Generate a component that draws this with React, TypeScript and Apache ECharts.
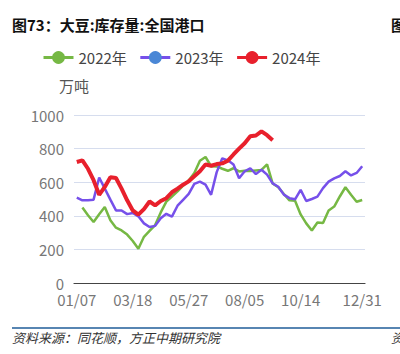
import React, { useEffect, useRef } from "react";
import * as echarts from "echarts";

const categories = [
  "01/07", "01/14", "01/21", "01/28", "02/04", "02/11", "02/18", "02/25", "03/04", "03/11",
  "03/18", "03/25", "04/01", "04/08", "04/15", "04/22", "04/29", "05/06", "05/13", "05/20",
  "05/27", "06/03", "06/10", "06/17", "06/24", "07/01", "07/08", "07/15", "07/22", "07/29",
  "08/05", "08/12", "08/19", "08/26", "09/02", "09/09", "09/16", "09/23", "09/30", "10/07",
  "10/14", "10/21", "10/28", "11/04", "11/11", "11/18", "11/25", "12/02", "12/09", "12/16",
  "12/23", "12/31",
];

const xLabelsShown = ["01/07", "03/18", "05/27", "08/05", "10/14", "12/31"];

const seriesNames = ["2022年", "2023年", "2024年"];

const values2022 = [
  null, 449, 403, 363, 409, 453, 373, 329, 313, 288, 250, 204, 275, 310, 345, 420, 484, 515,
  545, 580, 610, 655, 728, 750, 695, 694, 680, 668, 683, 664, 668, 667, 670, 673, 706, 592,
  570, 530, 492, 490, 408, 355, 312, 360, 357, 432, 455, 515, 570, 525, 484, 494,
];

const values2023 = [
  508, 492, 492, 496, 628, 562, 496, 432, 432, 410, 417, 397, 355, 333, 340, 385, 412, 395,
  460, 495, 530, 590, 603, 585, 525, 660, 742, 730, 705, 623, 665, 683, 648, 674, 645, 593,
  573, 526, 505, 498, 554, 488, 500, 514, 565, 603, 623, 637, 665, 640, 655, 695,
];

const values2024 = [
  720, 730, 680, 612, 525, 572, 630, 625, 562, 492, 432, 407, 440, 485, 462, 488, 505, 540,
  562, 585, 605, 635, 665, 705, 698, 708, 712, 728, 765, 800, 832, 873, 878, 903, 880, 850,
];

const yTicks = { min: 0, max: 1000, interval: 200 };

const FONT = '"Noto Sans CJK SC", "Noto Sans", sans-serif';

export default function App() {
  const ref = useRef<HTMLDivElement>(null);

  useEffect(() => {
    if (!ref.current) return;
    const chart = echarts.init(ref.current, null, { renderer: "svg" });
    const labelIdx = (i: number) => xLabelsShown.indexOf(categories[i]) >= 0;
    const tickIdx = (i: number) => i % 10 === 0;

    chart.setOption({
      animation: false,
      textStyle: { fontFamily: FONT },
      grid: { left: 74, right: 35, top: 115, bottom: 71 },
      legend: {
        left: 37,
        top: 45,
        itemWidth: 30,
        itemHeight: 16,
        itemGap: 12,
        data: seriesNames,
        textStyle: { fontSize: 15, color: "#444", fontFamily: FONT },
        lineStyle: { width: 3 },
      },
      graphic: [
        {
          type: "text",
          left: 12,
          top: 17,
          style: {
            text: "图73：大豆:库存量:全国港口",
            fontSize: 15,
            fontWeight: "bold",
            fill: "#111",
            fontFamily: FONT,
          },
        },
        {
          type: "text",
          x: 391,
          y: 17,
          style: { text: "图", fontSize: 15, fontWeight: "bold", fill: "#111", fontFamily: FONT },
        },
        {
          type: "line",
          shape: { x1: 12, y1: 328, x2: 400, y2: 328 },
          style: { stroke: "#1f5c99", lineWidth: 1.5 },
        },
        {
          type: "text",
          left: 12,
          top: 331,
          style: {
            text: "资料来源：同花顺，方正中期研究院",
            fontSize: 13,
            fontStyle: "italic",
            fill: "#333",
            fontFamily: FONT,
          },
        },
        {
          type: "text",
          x: 391,
          y: 331,
          style: { text: "资", fontSize: 13, fontStyle: "italic", fill: "#333", fontFamily: FONT },
        },
      ],
      xAxis: {
        type: "category",
        data: categories,
        boundaryGap: true,
        axisLine: { lineStyle: { color: "#444", width: 1.2 } },
        axisTick: { interval: tickIdx, length: 6, lineStyle: { color: "#444" } },
        axisLabel: {
          interval: labelIdx,
          fontSize: 15,
          lineHeight: 15,
          color: "#777",
          margin: 9,
          fontFamily: FONT,
        },
        splitLine: { show: false },
      },
      yAxis: {
        type: "value",
        min: yTicks.min,
        max: yTicks.max,
        interval: yTicks.interval,
        name: "万吨",
        nameGap: 22,
        nameTextStyle: { fontSize: 15, color: "#555", fontFamily: FONT },
        axisLine: { show: false },
        axisTick: { show: false },
        axisLabel: {
          fontSize: 15,
          lineHeight: 14,
          color: "#777",
          margin: 10,
          fontFamily: FONT,
          formatter: (v: number) => String(v),
        },
        splitLine: { lineStyle: { color: "#d6ddee", width: 1 } },
      },
      series: [
        {
          name: seriesNames[0],
          type: "line",
          data: values2022,
          symbol: "circle",
          showSymbol: false,
          lineStyle: { color: "#76b844", width: 2.5 },
          itemStyle: { color: "#76b844" },
        },
        {
          name: seriesNames[1],
          type: "line",
          data: values2023,
          symbol: "circle",
          showSymbol: false,
          lineStyle: { color: "#7650ea", width: 2.5 },
          itemStyle: { color: "#4a87d6" },
        },
        {
          name: seriesNames[2],
          type: "line",
          data: values2024,
          symbol: "circle",
          showSymbol: false,
          lineStyle: { color: "#e8202c", width: 4 },
          itemStyle: { color: "#e8202c" },
        },
      ],
    });

    return () => chart.dispose();
  }, []);

  return (
    <div
      ref={ref}
      style={{ position: "fixed", left: 0, top: 0, width: 400, height: 354, background: "#fff" }}
    />
  );
}
